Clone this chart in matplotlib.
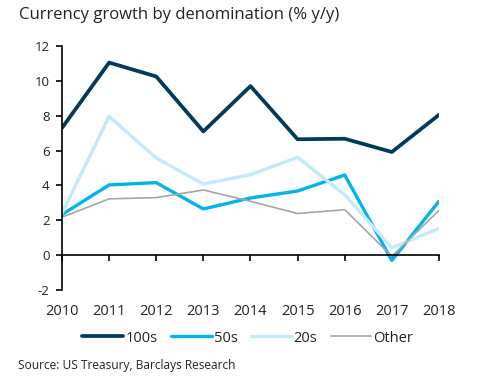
import matplotlib
matplotlib.use('Agg')
import matplotlib.pyplot as plt

plt.rcParams['font.family'] = ['Open Sans', 'DejaVu Sans']

years = [2010, 2011, 2012, 2013, 2014, 2015, 2016, 2017, 2018]
s100 = [7.3, 11.05, 10.25, 7.1, 9.7, 6.65, 6.68, 5.92, 8.05]
s50 = [2.33, 4.03, 4.16, 2.65, 3.28, 3.68, 4.6, -0.3, 3.09]
s20 = [2.4, 7.96, 5.57, 4.08, 4.62, 5.61, 3.47, 0.42, 1.53]
other = [2.18, 3.23, 3.3, 3.74, 3.09, 2.39, 2.61, -0.06, 2.56]
yticks = [-2, 0, 2, 4, 6, 8, 10, 12]

fig = plt.figure(figsize=(4.91, 3.79), dpi=100)
ax = fig.add_axes([0.1263, 0.2348, 0.894 - 0.1263, 0.8786 - 0.2348])

ax.plot(years, s100, color='#003A5D', lw=2.7, label='100s', solid_capstyle='round')
ax.plot(years, s50, color='#00B5EC', lw=2.4, label='50s', solid_capstyle='round')
ax.plot(years, s20, color='#C3EAFA', lw=2.4, label='20s', solid_capstyle='round')
ax.plot(years, other, color='#A6A6A6', lw=1.2, label='Other')

ax.set_xlim(2010, 2018)
ax.set_ylim(-2, 12)
ax.set_yticks(yticks)
ax.set_yticklabels([str(v) for v in yticks])

for s in ['top', 'right']:
    ax.spines[s].set_visible(False)
ax.spines['bottom'].set_position(('data', 0))
ax.spines['left'].set_linewidth(1.2)
ax.spines['bottom'].set_linewidth(1.2)
ax.set_xticks(years)
ax.tick_params(axis='x', direction='out', length=4, width=1.2, labelbottom=False)
ax.tick_params(axis='y', direction='out', length=4, width=1.2, pad=5,
               labelsize=9.5, labelcolor='#222222')

sec = ax.secondary_xaxis('bottom')
sec.set_xticks(years)
sec.set_xticklabels([str(y) for y in years])
sec.spines['bottom'].set_visible(False)
sec.tick_params(length=0, pad=10, labelsize=10.5, labelcolor='#222222')

fig.text(0.039, 0.96, 'Currency growth by denomination (% y/y)', fontsize=12,
         color='#222222', va='center', ha='left')
fig.text(0.037, 0.035, 'Source: US Treasury, Barclays Research', fontsize=8.6,
         color='#222222', va='center', ha='left')

fig.legend(loc='center', bbox_to_anchor=(0.505, 0.108), ncol=4, frameon=False,
           fontsize=10.5, handlelength=2.8, handletextpad=0.15, columnspacing=0.9,
           labelcolor='#222222')

fig.savefig('out.png', dpi=100)
